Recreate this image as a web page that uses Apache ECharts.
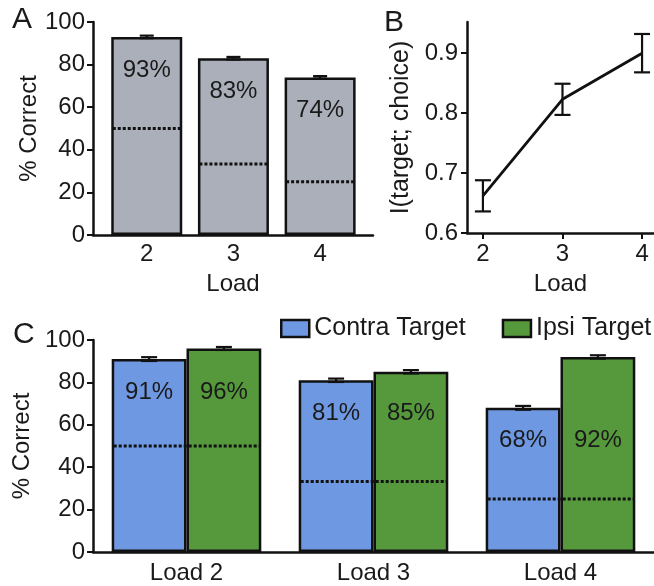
<!DOCTYPE html>
<html>
<head>
<meta charset="utf-8">
<script src="https://cdn.jsdelivr.net/npm/echarts@6/dist/echarts.min.js"></script>
<style>
html,body{margin:0;padding:0;background:#fff;}
#chart{width:654px;height:586px;}
</style>
</head>
<body>
<div id="chart"></div>
<script>
// ---- Data ----
const loadsA = [2, 3, 4];
const pctA = [93, 83, 74];
const errA = [0.6, 0.6, 0.6];
const chanceA = [50, 33.3, 25];

const loadsB = [2, 3, 4];
const miB = [0.662, 0.823, 0.9];
const miErrB = [0.026, 0.026, 0.032];

const catsC = ['Load 2', 'Load 3', 'Load 4'];
const contraC = [91, 81, 68];
const ipsiC = [96, 85, 92];
const contraErrC = [0.9, 0.8, 0.9];
const ipsiErrC = [0.7, 0.8, 0.8];
const chanceC = [50, 33.3, 25];

const yTicksPct = [0, 20, 40, 60, 80, 100];
const yTicksB = [0.6, 0.7, 0.8, 0.9];

// ---- Styles ----
const FONT = 'Liberation Sans, Arial, sans-serif';
const FS = 24;
const TXT = '#1a1a1a';
const GRAY = '#abafba';
const BLUE = '#6e98e2';
const GREEN = '#56993d';

const chart = echarts.init(document.getElementById('chart'), null, {renderer: 'canvas'});

function axisLineStyle() { return {show: true, lineStyle: {color: '#111', width: 2.5}}; }
const DOT = {stroke: '#111', lineWidth: 3, lineDash: [3, 2]};

function errRender(halfCap, xShiftFrac) {
  return function (params, api) {
    const x = api.value(0), lo = api.value(1), hi = api.value(2);
    const bw = api.size([1, 0])[0];
    const p1 = api.coord([x, lo]);
    const p2 = api.coord([x, hi]);
    const dx = xShiftFrac ? xShiftFrac * bw : 0;
    const cx = p1[0] + dx;
    const st = {stroke: '#111', lineWidth: 2.2};
    return {
      type: 'group',
      children: [
        {type: 'line', shape: {x1: cx, y1: p1[1], x2: cx, y2: p2[1]}, style: st},
        {type: 'line', shape: {x1: cx - halfCap, y1: p1[1], x2: cx + halfCap, y2: p1[1]}, style: st},
        {type: 'line', shape: {x1: cx - halfCap, y1: p2[1], x2: cx + halfCap, y2: p2[1]}, style: st}
      ]
    };
  };
}

const option = {
  animation: false,
  textStyle: {fontFamily: FONT},
  graphic: [
    {type: 'text', left: 12, top: 5, style: {text: 'A', font: '30px ' + FONT, fill: TXT}},
    {type: 'text', left: 384, top: 8, style: {text: 'B', font: '30px ' + FONT, fill: TXT}},
    {type: 'text', left: 13, top: 320, style: {text: 'C', font: '30px ' + FONT, fill: TXT}}
  ],
  legend: {
    data: ['Contra Target', 'Ipsi Target'],
    orient: 'horizontal',
    left: 280, top: 316, width: 440,
    itemWidth: 28, itemHeight: 17, itemGap: 36,
    itemStyle: {borderColor: '#111', borderWidth: 2.5},
    textStyle: {fontSize: 25, color: TXT, fontFamily: FONT},
    icon: 'rect',
    padding: 0
  },
  grid: [
    {left: 93, top: 22, width: 280, height: 213},
    {left: 467, top: 22, width: 187, height: 211},
    {left: 93, top: 340, width: 561, height: 212}
  ],
  xAxis: [
    {
      gridIndex: 0, type: 'value', min: 1.38, max: 4.61,
      axisLine: axisLineStyle(), axisTick: {show: false}, splitLine: {show: false},
      axisLabel: {customValues: loadsA, fontSize: FS, color: TXT, margin: 7, fontFamily: FONT},
      name: 'Load', nameLocation: 'middle', nameGap: 37,
      nameTextStyle: {fontSize: FS, color: TXT, fontFamily: FONT}
    },
    {
      gridIndex: 1, type: 'value', min: 1.8, max: 4.15,
      axisLine: axisLineStyle(),
      axisTick: {show: true, customValues: loadsB, length: 6, lineStyle: {color: '#111', width: 2}},
      splitLine: {show: false},
      axisLabel: {customValues: loadsB, fontSize: FS, color: TXT, margin: 9, fontFamily: FONT},
      name: 'Load', nameLocation: 'middle', nameGap: 39,
      nameTextStyle: {fontSize: FS, color: TXT, fontFamily: FONT}
    },
    {
      gridIndex: 2, type: 'category', data: catsC,
      axisLine: axisLineStyle(), axisTick: {show: false},
      axisLabel: {fontSize: FS, color: TXT, margin: 9, fontFamily: FONT}
    }
  ],
  yAxis: [
    {
      gridIndex: 0, type: 'value', min: 0, max: 100, interval: 20,
      axisLine: axisLineStyle(),
      axisTick: {show: true, length: 6, lineStyle: {color: '#111', width: 2}},
      splitLine: {show: false},
      axisLabel: {customValues: yTicksPct, fontSize: FS, color: TXT, margin: 8, fontFamily: FONT},
      name: '% Correct', nameLocation: 'middle', nameGap: 52,
      nameTextStyle: {fontSize: FS, color: TXT, fontFamily: FONT}
    },
    {
      gridIndex: 1, type: 'value', min: 0.6, max: 0.952,
      axisLine: axisLineStyle(),
      axisTick: {show: true, customValues: yTicksB, length: 6, lineStyle: {color: '#111', width: 2}},
      splitLine: {show: false},
      axisLabel: {customValues: yTicksB, fontSize: FS, color: TXT, margin: 9, fontFamily: FONT,
        formatter: v => v.toFixed(1)},
      name: 'I(target; choice)', nameLocation: 'middle', nameGap: 53,
      nameTextStyle: {fontSize: 25, color: TXT, fontFamily: FONT}
    },
    {
      gridIndex: 2, type: 'value', min: 0, max: 100, interval: 20,
      axisLine: axisLineStyle(),
      axisTick: {show: true, length: 6, lineStyle: {color: '#111', width: 2}},
      splitLine: {show: false},
      axisLabel: {customValues: yTicksPct, fontSize: FS, color: TXT, margin: 8, fontFamily: FONT},
      name: '% Correct', nameLocation: 'middle', nameGap: 52,
      nameTextStyle: {fontSize: FS, color: TXT, fontFamily: FONT}
    }
  ],
  series: [
    // Panel A bars
    {
      type: 'bar', xAxisIndex: 0, yAxisIndex: 0, barWidth: 71,
      data: loadsA.map((x, i) => [x, pctA[i]]),
      itemStyle: {color: GRAY, borderColor: '#111', borderWidth: 2.5},
      label: {show: true, position: 'insideTop', distance: 21, fontSize: FS, color: TXT,
        fontFamily: FONT, formatter: p => p.value[1] + '%'}
    },
    // Panel A chance lines
    {
      type: 'custom', xAxisIndex: 0, yAxisIndex: 0, z: 5,
      data: loadsA.map((x, i) => [x, chanceA[i]]),
      renderItem: function (params, api) {
        const p = api.coord([api.value(0), api.value(1)]);
        return {type: 'line', shape: {x1: p[0] - 34, y1: p[1], x2: p[0] + 34, y2: p[1]}, style: DOT};
      }
    },
    // Panel A error bars
    {
      type: 'custom', xAxisIndex: 0, yAxisIndex: 0, z: 6,
      data: loadsA.map((x, i) => [x, pctA[i] - errA[i], pctA[i] + errA[i]]),
      renderItem: errRender(7, 0)
    },
    // Panel B line
    {
      type: 'line', xAxisIndex: 1, yAxisIndex: 1, showSymbol: false, symbol: 'none',
      data: loadsB.map((x, i) => [x, miB[i]]),
      lineStyle: {color: '#111', width: 2.8}
    },
    // Panel B error bars
    {
      type: 'custom', xAxisIndex: 1, yAxisIndex: 1, z: 6,
      data: loadsB.map((x, i) => [x, miB[i] - miErrB[i], miB[i] + miErrB[i]]),
      renderItem: errRender(8, 0)
    },
    // Panel C bars
    {
      name: 'Contra Target', type: 'bar', xAxisIndex: 2, yAxisIndex: 2,
      barGap: '0%', barCategoryGap: '20%',
      data: contraC,
      itemStyle: {color: BLUE, borderColor: '#111', borderWidth: 2.5}
    },
    {
      name: 'Ipsi Target', type: 'bar', xAxisIndex: 2, yAxisIndex: 2,
      barGap: '0%', barCategoryGap: '20%',
      data: ipsiC,
      itemStyle: {color: GREEN, borderColor: '#111', borderWidth: 2.5}
    },
    // Panel C chance lines + labels
    {
      type: 'custom', xAxisIndex: 2, yAxisIndex: 2, z: 5,
      data: catsC.map((c, i) => [i, chanceC[i], contraC[i], ipsiC[i]]),
      renderItem: function (params, api) {
        const bw = api.size([1, 0])[0];
        const p = api.coord([api.value(0), api.value(1)]);
        const q = api.coord([api.value(0), api.value(2)]);
        const half = 0.4 * bw;
        const ly = q[1] + 33;
        return {
          type: 'group',
          children: [
            {type: 'line', shape: {x1: p[0] - half + 2, y1: p[1], x2: p[0] + half - 2, y2: p[1]}, style: DOT},
            {type: 'text', x: p[0] - 0.2 * bw, y: ly,
              style: {text: api.value(2) + '%', font: FS + 'px ' + FONT, fill: TXT, align: 'center', verticalAlign: 'middle'}},
            {type: 'text', x: p[0] + 0.2 * bw, y: ly,
              style: {text: api.value(3) + '%', font: FS + 'px ' + FONT, fill: TXT, align: 'center', verticalAlign: 'middle'}}
          ]
        };
      }
    },
    // Panel C error bars
    {
      type: 'custom', xAxisIndex: 2, yAxisIndex: 2, z: 6,
      data: catsC.map((c, i) => [i, contraC[i] - contraErrC[i], contraC[i] + contraErrC[i]]),
      renderItem: errRender(8, -0.2)
    },
    {
      type: 'custom', xAxisIndex: 2, yAxisIndex: 2, z: 6,
      data: catsC.map((c, i) => [i, ipsiC[i] - ipsiErrC[i], ipsiC[i] + ipsiErrC[i]]),
      renderItem: errRender(8, 0.2)
    }
  ]
};
chart.setOption(option);
</script>
</body>
</html>
